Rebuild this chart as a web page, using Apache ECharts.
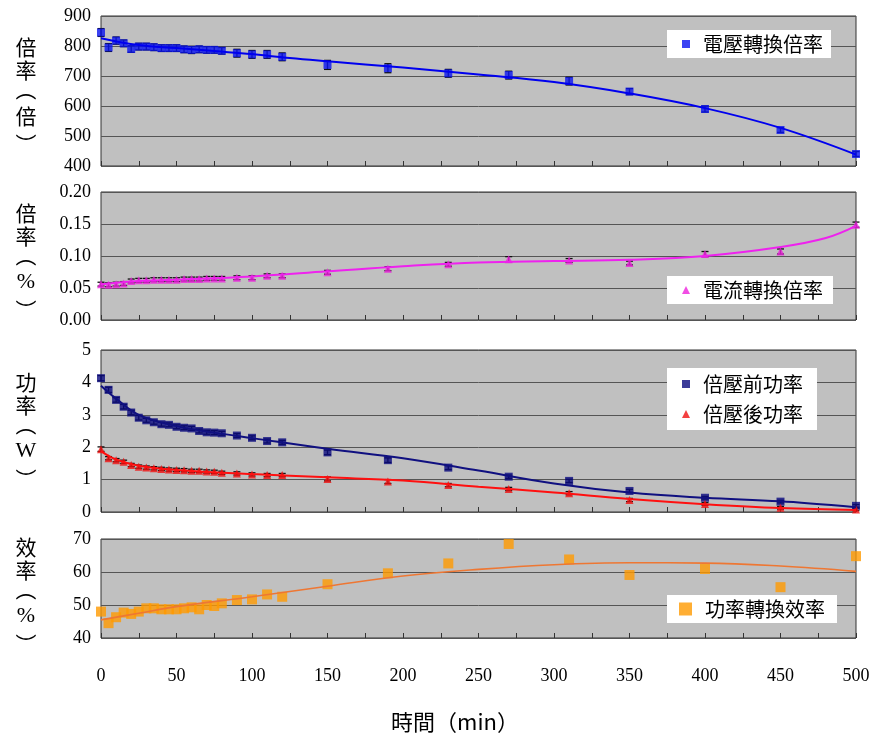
<!DOCTYPE html>
<html>
<head>
<meta charset="utf-8">
<script src="https://cdn.jsdelivr.net/npm/echarts@6/dist/echarts.min.js"></script>
<style>
html,body{margin:0;padding:0;background:#fff;}
#chart{width:876px;height:740px;}
</style>
</head>
<body>
<div id="chart"></div>
<script>
// ---- data ----
const times = [0,5,10,15,20,25,30,35,40,45,50,55,60,65,70,75,80,90,100,110,120,150,190,230,270,310,350,400,450,500];

const voltageRatio = [845,795,818,809,790,798,798,796,793,793,793,789,787,789,787,787,784,776,772,772,764,737,726,709,703,683,648,590,520,440];
const voltageErr   = [13,13,12,11,11,11,11,11,11,11,11,11,12,11,11,11,11,13,13,13,13,15,15,13,13,13,10,10,8,8];

const currentRatio = [0.056,0.055,0.056,0.057,0.061,0.062,0.062,0.063,0.063,0.063,0.063,0.064,0.064,0.064,0.065,0.065,0.065,0.066,0.066,0.069,0.069,0.0745,0.080,0.087,0.095,0.093,0.089,0.103,0.107,0.149];
const currentErr   = [0.003,0.003,0.003,0.003,0.003,0.003,0.003,0.003,0.003,0.003,0.003,0.003,0.003,0.003,0.003,0.003,0.003,0.003,0.003,0.003,0.003,0.003,0.003,0.003,0.004,0.003,0.003,0.004,0.004,0.004];

const powerBefore = [4.13,3.77,3.46,3.25,3.07,2.91,2.83,2.77,2.71,2.69,2.63,2.60,2.58,2.50,2.46,2.45,2.43,2.36,2.29,2.19,2.15,1.84,1.60,1.37,1.09,0.96,0.65,0.44,0.32,0.19];
const powerBeforeErr = [0.08,0.08,0.07,0.07,0.07,0.07,0.06,0.06,0.06,0.06,0.06,0.06,0.06,0.06,0.06,0.06,0.06,0.06,0.06,0.06,0.06,0.07,0.07,0.06,0.05,0.05,0.05,0.04,0.04,0.04];
const powerAfter  = [1.94,1.66,1.60,1.55,1.45,1.40,1.37,1.35,1.33,1.31,1.30,1.29,1.27,1.27,1.25,1.24,1.21,1.19,1.16,1.14,1.14,1.02,0.94,0.83,0.71,0.58,0.37,0.25,0.13,0.08];
const powerAfterErr = [0.07,0.05,0.05,0.05,0.05,0.05,0.05,0.05,0.05,0.05,0.05,0.05,0.05,0.05,0.05,0.05,0.05,0.05,0.05,0.05,0.05,0.06,0.06,0.05,0.05,0.05,0.05,0.04,0.04,0.04];

const efficiency = [48,44.5,46.3,47.7,47.3,48,49,49,48.7,48.7,48.7,49,49.3,48.7,50,49.7,50.5,51.5,51.7,53.2,52.5,56.3,59.6,62.6,68.5,63.8,59.1,60.9,55.4,64.8];

// trend lines
const trendVoltX = [0,25,50,75,100,125,150,200,250,300,350,400,450,500];
const trendVoltY = [826,803,793,783,773,760,749,728,705,680,642,593,527,438];
const trendCurrX = [0,25,50,100,150,200,250,300,350,400,450,480,500];
const trendCurrY = [0.056,0.061,0.063,0.068,0.076,0.084,0.090,0.092,0.094,0.100,0.114,0.128,0.147];
const trendPBX = [0,10,25,50,75,100,150,200,250,300,350,400,450,500];
const trendPBY = [3.90,3.50,3.00,2.65,2.45,2.28,1.95,1.66,1.28,0.88,0.60,0.44,0.33,0.15];
const trendPAX = [0,10,25,50,100,150,200,250,300,350,400,450,500];
const trendPAY = [1.88,1.62,1.43,1.30,1.17,1.07,0.97,0.78,0.60,0.40,0.24,0.12,0.06];
const trendEffX = [0,25,50,100,150,200,250,300,350,400,450,500];
const trendEffY = [45.5,47.5,49.5,52.5,55.7,58.8,60.8,62.2,62.8,62.7,61.8,60.2];

const xTicks = [0,50,100,150,200,250,300,350,400,450,500];

// axis titles (vertical), one entry per character
const yTitles = [
  { chars: ['倍', '率', '（', '倍', '）'], center: 93 },
  { chars: ['倍', '率', '（', '%', '）'], center: 259 },
  { chars: ['功', '率', '（', 'W', '）'], center: 428 },
  { chars: ['效', '率', '（', '%', '）'], center: 593 }
];
const xTitle = '時間（min）';

// ---- helpers ----
const pairs = (xs, ys) => xs.map((x, i) => [x, ys[i]]);
const triples = (xs, ys, es) => xs.map((x, i) => [x, ys[i], es[i]]);
const CJK = '"Noto Sans CJK TC", "Noto Sans CJK SC", sans-serif';
const NUM = '"Liberation Serif", "DejaVu Serif", serif';

function errRender(params, api) {
  const x = api.value(0), y = api.value(1), e = api.value(2);
  const hi = api.coord([x, y + e]);
  const lo = api.coord([x, y - e]);
  const w = 3.5;
  const st = { stroke: '#111', lineWidth: 1.3 };
  return {
    type: 'group',
    children: [
      { type: 'line', shape: { x1: hi[0], y1: hi[1], x2: lo[0], y2: lo[1] }, style: st },
      { type: 'line', shape: { x1: hi[0] - w, y1: hi[1], x2: hi[0] + w, y2: hi[1] }, style: st },
      { type: 'line', shape: { x1: lo[0] - w, y1: lo[1], x2: lo[0] + w, y2: lo[1] }, style: st }
    ]
  };
}

const gridBase = { left: 101, width: 755, show: true, backgroundColor: '#c0c0c0', borderColor: '#333', borderWidth: 1 };
const grids = [
  Object.assign({ top: 16, height: 150 }, gridBase),
  Object.assign({ top: 192, height: 128 }, gridBase),
  Object.assign({ top: 350, height: 162 }, gridBase),
  Object.assign({ top: 539, height: 99 }, gridBase)
];

function xAxisFor(i, showLabels) {
  return {
    type: 'value', gridIndex: i, min: 0, max: 500, interval: 25,
    axisLine: { show: false },
    axisTick: { show: true, inside: true, length: 5, lineStyle: { color: '#333', width: 1 } },
    splitLine: { show: false },
    axisLabel: {
      show: showLabels, margin: 29, color: '#000', fontFamily: NUM, fontSize: 18,
      formatter: v => (xTicks.indexOf(v) >= 0 ? String(v) : '')
    }
  };
}
function yAxisFor(i, min, max, interval, fmt) {
  return {
    type: 'value', gridIndex: i, min: min, max: max, interval: interval,
    axisLine: { show: false }, axisTick: { show: false },
    splitLine: { show: true, lineStyle: { color: '#555', width: 1 } },
    axisLabel: { color: '#000', fontFamily: NUM, fontSize: 18, margin: 10, formatter: fmt }
  };
}

const legendBase = {
  backgroundColor: '#fff', selectedMode: false, itemWidth: 8, itemHeight: 8,
  textStyle: { fontFamily: CJK, fontSize: 20, color: '#000', padding: [0, 0, 0, 8] },
  borderWidth: 0
};

// vertical axis-title graphics
const graphics = [];
yTitles.forEach(t => {
  const pitch = 23;
  const start = t.center - pitch * (t.chars.length - 1) / 2;
  t.chars.forEach((c, k) => {
    const isParen = (c === '（' || c === '）');
    const shift = c === '（' ? -3 : (c === '）' ? 5 : 0);
    graphics.push({
      type: 'text', x: 26, y: start + k * pitch + shift,
      rotation: isParen ? -Math.PI / 2 : 0,
      style: {
        text: c, font: (c === '%' || c === 'W' ? '22px ' + NUM : '21px ' + CJK),
        fill: '#000', align: 'center', verticalAlign: 'middle'
      }
    });
  });
});
graphics.push({ type: 'text', x: 455, y: 722, style: { text: xTitle, font: '22px ' + CJK, fill: '#000', align: 'center', verticalAlign: 'middle' } });

const option = {
  animation: false,
  backgroundColor: '#fff',
  grid: grids,
  xAxis: [xAxisFor(0, false), xAxisFor(1, false), xAxisFor(2, false), xAxisFor(3, true)],
  yAxis: [
    yAxisFor(0, 400, 900, 100, v => String(v)),
    yAxisFor(1, 0, 0.2, 0.05, v => v.toFixed(2)),
    yAxisFor(2, 0, 5, 1, v => String(v)),
    yAxisFor(3, 40, 70, 10, v => String(v))
  ],
  legend: [
    Object.assign({}, legendBase, { data: ['電壓轉換倍率'], left: 667, top: 30, padding: [4, 8, 4, 15] }),
    Object.assign({}, legendBase, { data: ['電流轉換倍率'], left: 667, top: 276, padding: [4, 10, 4, 15] }),
    Object.assign({}, legendBase, { data: ['倍壓前功率', '倍壓後功率'], left: 667, top: 368, orient: 'vertical', itemGap: 10, padding: [6, 14, 6, 15] }),
    Object.assign({}, legendBase, { data: ['功率轉換效率'], left: 667, top: 595, itemWidth: 13, itemHeight: 13, padding: [4, 12, 4, 12] })
  ],
  graphic: graphics,
  series: [
    // panel 1
    { type: 'custom', name: 'err1', xAxisIndex: 0, yAxisIndex: 0, renderItem: errRender, encode: { x: 0, y: 1 }, data: triples(times, voltageRatio, voltageErr), z: 2 },
    { type: 'scatter', name: '電壓轉換倍率', xAxisIndex: 0, yAxisIndex: 0, symbol: 'rect', symbolSize: 8, itemStyle: { color: '#0a14f0' }, data: pairs(times, voltageRatio), z: 3 },
    { type: 'line', name: 'trend1', xAxisIndex: 0, yAxisIndex: 0, smooth: 0.4, showSymbol: false, lineStyle: { color: '#0000ee', width: 2 }, data: pairs(trendVoltX, trendVoltY), z: 4 },
    // panel 2
    { type: 'custom', name: 'err2', xAxisIndex: 1, yAxisIndex: 1, renderItem: errRender, encode: { x: 0, y: 1 }, data: triples(times, currentRatio, currentErr), z: 2 },
    { type: 'scatter', name: '電流轉換倍率', xAxisIndex: 1, yAxisIndex: 1, symbol: 'triangle', symbolSize: 8, itemStyle: { color: '#ee22dd' }, data: pairs(times, currentRatio), z: 3 },
    { type: 'line', name: 'trend2', xAxisIndex: 1, yAxisIndex: 1, smooth: 0.4, showSymbol: false, lineStyle: { color: '#ee22ee', width: 2 }, data: pairs(trendCurrX, trendCurrY), z: 4 },
    // panel 3
    { type: 'custom', name: 'err3a', xAxisIndex: 2, yAxisIndex: 2, renderItem: errRender, encode: { x: 0, y: 1 }, data: triples(times, powerBefore, powerBeforeErr), z: 2 },
    { type: 'custom', name: 'err3b', xAxisIndex: 2, yAxisIndex: 2, renderItem: errRender, encode: { x: 0, y: 1 }, data: triples(times, powerAfter, powerAfterErr), z: 2 },
    { type: 'scatter', name: '倍壓前功率', xAxisIndex: 2, yAxisIndex: 2, symbol: 'rect', symbolSize: 8, itemStyle: { color: '#0a0a80' }, data: pairs(times, powerBefore), z: 3 },
    { type: 'scatter', name: '倍壓後功率', xAxisIndex: 2, yAxisIndex: 2, symbol: 'triangle', symbolSize: 8, itemStyle: { color: '#f01010' }, data: pairs(times, powerAfter), z: 3 },
    { type: 'line', name: 'trend3a', xAxisIndex: 2, yAxisIndex: 2, smooth: 0.4, showSymbol: false, lineStyle: { color: '#101080', width: 2 }, data: pairs(trendPBX, trendPBY), z: 4 },
    { type: 'line', name: 'trend3b', xAxisIndex: 2, yAxisIndex: 2, smooth: 0.4, showSymbol: false, lineStyle: { color: '#ff1010', width: 2 }, data: pairs(trendPAX, trendPAY), z: 4 },
    // panel 4
    { type: 'scatter', name: '功率轉換效率', xAxisIndex: 3, yAxisIndex: 3, symbol: 'rect', symbolSize: 10, itemStyle: { color: '#ff9a00' }, data: pairs(times, efficiency), z: 3 },
    { type: 'line', name: 'trend4', xAxisIndex: 3, yAxisIndex: 3, smooth: 0.4, showSymbol: false, lineStyle: { color: '#ee7733', width: 1.6 }, data: pairs(trendEffX, trendEffY), z: 4 }
  ]
};

const chart = echarts.init(document.getElementById('chart'), null, { renderer: 'canvas' });
chart.setOption(option);
</script>
</body>
</html>
